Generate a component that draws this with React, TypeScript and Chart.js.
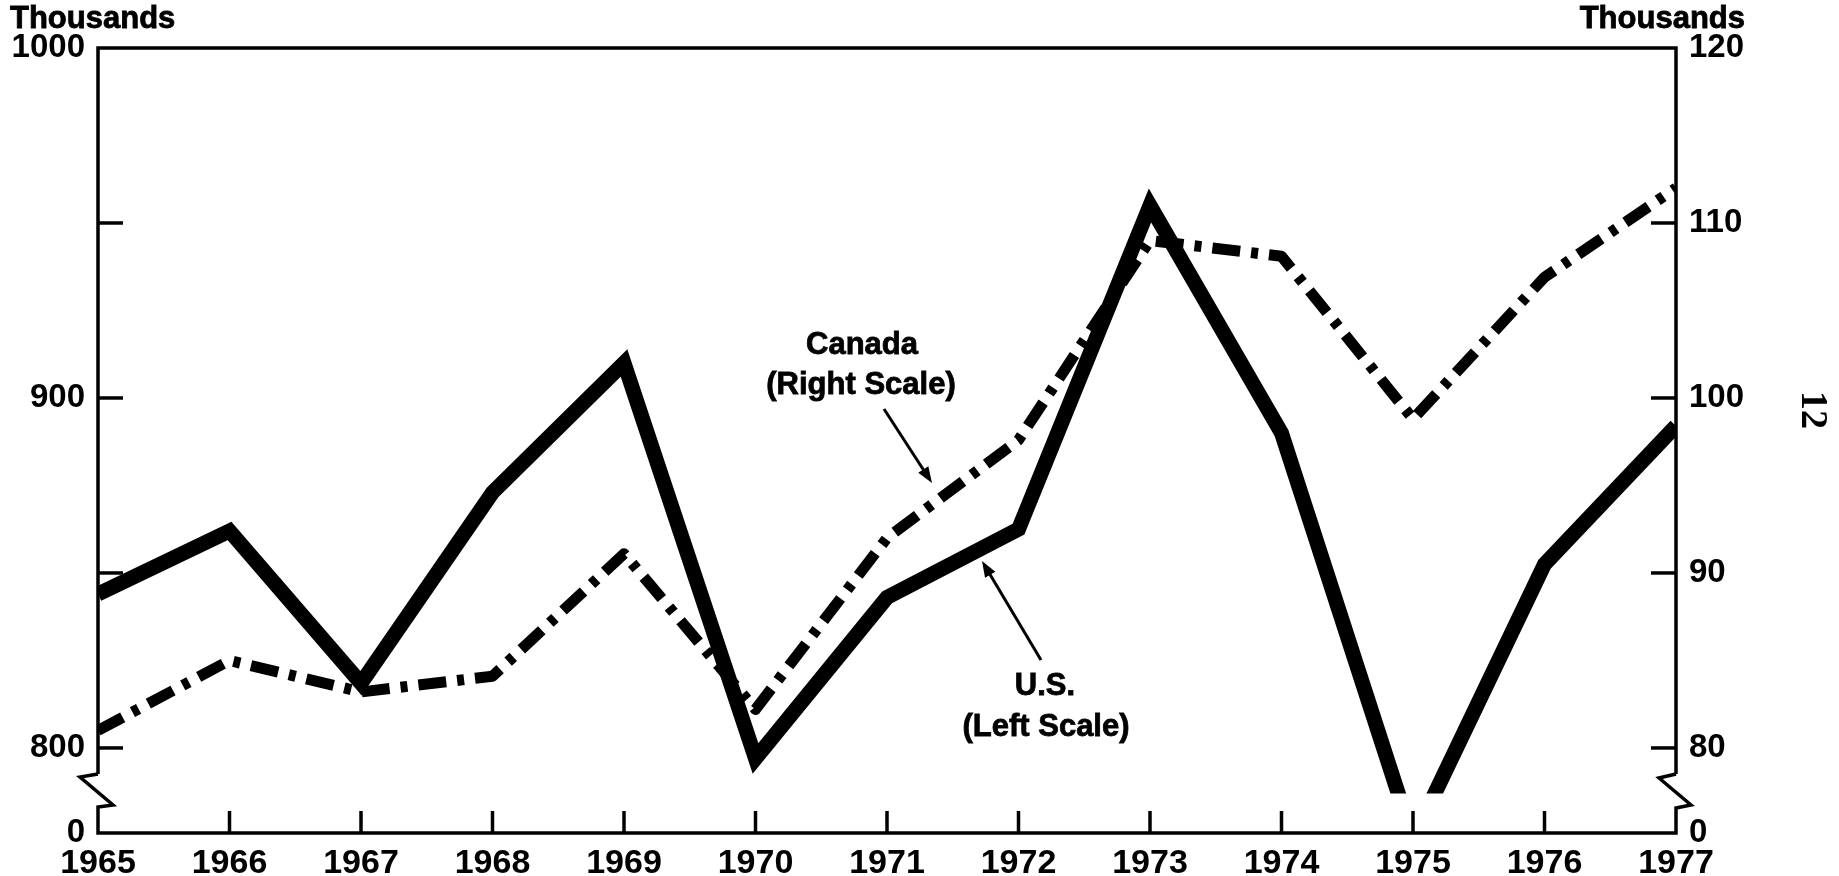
import React, { useEffect, useRef } from 'react';
import { Chart, registerables } from 'chart.js';

Chart.register(...registerables);

// ---- data ----
const years = ['1965', '1966', '1967', '1968', '1969', '1970', '1971', '1972', '1973', '1974', '1975', '1976', '1977'];
const usValues = [844, 862, 818.5, 873, 910, 797, 843, 862.5, 955, 890, 774, 852.5, 892];
const canadaValues = [81.0, 85.0, 83.2, 84.1, 91.1, 82.2, 92.0, 97.6, 109.0, 108.1, 98.8, 106.9, 112.0];

const leftTickValues = [800, 850, 900, 950, 1000];
const leftTickLabels = ['800', '', '900', '', '1000'];
const rightTickValues = [80, 90, 100, 110, 120];
const rightTickLabels = ['80', '90', '100', '110', '120'];

// axis floors (the broken part of each axis, labelled "0")
const LEFT_MIN = 775.7;
const RIGHT_MIN = 75.14;
const US_CUTOFF = 787; // U.S. line is cut off at the axis break

const FONT = '"Liberation Sans", Arial, sans-serif';

function labelFrom(values: number[], labels: string[], min: number) {
  return (v: number | string) => {
    const n = Number(v);
    if (Math.abs(n - min) < 0.01) return '0';
    const i = values.findIndex((x) => Math.abs(x - n) < 0.01);
    return i >= 0 ? labels[i] : '';
  };
}

function arrow(ctx: CanvasRenderingContext2D, x1: number, y1: number, x2: number, y2: number) {
  const ang = Math.atan2(y2 - y1, x2 - x1);
  const hl = 16;
  const hw = 6;
  ctx.beginPath();
  ctx.moveTo(x1, y1);
  ctx.lineTo(x2 - Math.cos(ang) * hl * 0.8, y2 - Math.sin(ang) * hl * 0.8);
  ctx.lineWidth = 3;
  ctx.stroke();
  ctx.beginPath();
  ctx.moveTo(x2, y2);
  ctx.lineTo(x2 - Math.cos(ang) * hl - Math.sin(ang) * hw, y2 - Math.sin(ang) * hl + Math.cos(ang) * hw);
  ctx.lineTo(x2 - Math.cos(ang) * hl + Math.sin(ang) * hw, y2 - Math.sin(ang) * hl - Math.cos(ang) * hw);
  ctx.closePath();
  ctx.fill();
}

function heavyText(ctx: CanvasRenderingContext2D, text: string, x: number, y: number) {
  ctx.lineWidth = 0.8;
  ctx.strokeText(text, x, y);
  ctx.fillText(text, x, y);
}

const decorPlugin = {
  id: 'decor',
  beforeDatasetDraw(chart: any, args: any) {
    if (args.index !== 0) return;
    const { ctx, chartArea } = chart;
    const yCut = chart.scales.y.getPixelForValue(US_CUTOFF);
    ctx.save();
    ctx.beginPath();
    ctx.rect(chartArea.left - 30, 0, chartArea.right - chartArea.left + 60, yCut);
    ctx.clip();
  },
  afterDatasetDraw(chart: any, args: any) {
    if (args.index !== 0) return;
    chart.ctx.restore();
  },
  afterDraw(chart: any) {
    const { ctx, chartArea, scales } = chart;
    const { left, right, top, bottom } = chartArea;
    const yL = scales.y;
    const yR = scales.y2;
    const xs = scales.x;
    ctx.save();
    ctx.strokeStyle = '#000';
    ctx.fillStyle = '#000';
    ctx.lineCap = 'butt';
    ctx.lineJoin = 'miter';

    // frame with axis breaks
    const brk = bottom - 59;
    ctx.lineWidth = 3.5;
    ctx.beginPath();
    ctx.moveTo(left, brk);
    ctx.lineTo(left, top);
    ctx.lineTo(right, top);
    ctx.lineTo(right, brk);
    ctx.stroke();

    ctx.beginPath();
    ctx.moveTo(left, brk);
    ctx.lineTo(left - 18, brk + 3);
    ctx.lineTo(left + 15, brk + 31);
    ctx.lineTo(left, brk + 33);
    ctx.lineTo(left, bottom);
    ctx.lineTo(right, bottom);
    ctx.lineTo(right, brk + 34);
    ctx.lineTo(right + 15, brk + 31);
    ctx.lineTo(right - 17, brk + 4);
    ctx.lineTo(right, brk);
    ctx.stroke();

    // inward tick marks
    ctx.lineWidth = 3.5;
    leftTickValues.forEach((v) => {
      if (v === 1000) return;
      const y = yL.getPixelForValue(v);
      ctx.beginPath();
      ctx.moveTo(left, y);
      ctx.lineTo(left + 25, y);
      ctx.stroke();
    });
    rightTickValues.forEach((v) => {
      if (v === 120) return;
      const y = yR.getPixelForValue(v);
      ctx.beginPath();
      ctx.moveTo(right - 25, y);
      ctx.lineTo(right, y);
      ctx.stroke();
    });
    for (let i = 1; i < years.length - 1; i++) {
      const x = xs.getPixelForValue(i);
      ctx.beginPath();
      ctx.moveTo(x, bottom);
      ctx.lineTo(x, bottom - 22);
      ctx.stroke();
    }

    // unit labels
    ctx.font = `bold 31px ${FONT}`;
    ctx.textBaseline = 'middle';
    ctx.textAlign = 'left';
    heavyText(ctx, 'Thousands', 10, 19);
    ctx.textAlign = 'right';
    heavyText(ctx, 'Thousands', 1745, 19);

    // series annotations
    ctx.font = `bold 31px ${FONT}`;
    ctx.textAlign = 'center';
    heavyText(ctx, 'Canada', 862, 345);
    heavyText(ctx, '(Right Scale)', 861, 385);
    heavyText(ctx, 'U.S.', 1045, 686);
    heavyText(ctx, '(Left Scale)', 1046, 727);
    arrow(ctx, 884, 409, 932, 483);
    arrow(ctx, 1041, 660, 982, 561);

    // page number
    ctx.translate(1812, 410);
    ctx.rotate(Math.PI / 2);
    ctx.font = `bold 38px "Liberation Serif", serif`;
    ctx.textAlign = 'center';
    ctx.fillText('12', 0, 0);
    ctx.restore();
  },
};

export default function App() {
  const ref = useRef<HTMLCanvasElement | null>(null);

  useEffect(() => {
    if (!ref.current) return;
    const chart = new Chart(ref.current, {
      type: 'line',
      data: {
        labels: years,
        datasets: [
          {
            label: 'U.S. (Left Scale)',
            data: usValues,
            yAxisID: 'y',
            borderColor: '#000',
            borderWidth: 15,
            borderJoinStyle: 'miter',
            borderCapStyle: 'butt',
            pointRadius: 0,
            tension: 0,
            fill: false,
            clip: 0,
          },
          {
            label: 'Canada (Right Scale)',
            data: canadaValues,
            yAxisID: 'y2',
            borderColor: '#000',
            borderWidth: 11,
            borderDash: [28, 11, 7, 11],
            borderJoinStyle: 'round',
            borderCapStyle: 'butt',
            pointRadius: 0,
            tension: 0,
            fill: false,
            clip: 0,
          },
        ],
      },
      options: {
        animation: false,
        responsive: false,
        maintainAspectRatio: false,
        devicePixelRatio: 1,
        layout: { padding: { left: 0, right: 0, top: 48, bottom: 0 } },
        plugins: { legend: { display: false }, tooltip: { enabled: false } },
        scales: {
          x: {
            type: 'category',
            offset: false,
            grid: { display: false, drawTicks: false },
            border: { display: false },
            ticks: {
              color: '#000',
              font: { family: FONT, size: 34, weight: 'bold' },
              padding: 10,
              autoSkip: false,
              maxRotation: 0,
            },
            afterFit: (s: any) => {
              s.height = 43;
            },
          },
          y: {
            type: 'linear',
            position: 'left',
            min: LEFT_MIN,
            max: 1000,
            grid: { display: false, drawTicks: false },
            border: { display: false },
            afterBuildTicks: (s: any) => {
              s.ticks = [LEFT_MIN, ...leftTickValues].map((v) => ({ value: v }));
            },
            ticks: {
              color: '#000',
              font: { family: FONT, size: 33, weight: 'bold' },
              padding: 13,
              autoSkip: false,
              callback: labelFrom(leftTickValues, leftTickLabels, LEFT_MIN),
            },
            afterFit: (s: any) => {
              s.width = 98;
            },
          },
          y2: {
            type: 'linear',
            position: 'right',
            min: RIGHT_MIN,
            max: 120,
            grid: { display: false, drawTicks: false },
            border: { display: false },
            afterBuildTicks: (s: any) => {
              s.ticks = [RIGHT_MIN, ...rightTickValues].map((v) => ({ value: v }));
            },
            ticks: {
              color: '#000',
              font: { family: FONT, size: 33, weight: 'bold' },
              padding: 13,
              autoSkip: false,
              callback: labelFrom(rightTickValues, rightTickLabels, RIGHT_MIN),
            },
            afterFit: (s: any) => {
              s.width = 1839 - 1676;
            },
          },
        },
      },
      plugins: [decorPlugin],
    } as any);
    return () => chart.destroy();
  }, []);

  return (
    <div style={{ position: 'absolute', left: 0, top: 0, width: 1839, height: 876, background: '#fff' }}>
      <canvas ref={ref} width={1839} height={876} style={{ display: 'block', width: 1839, height: 876 }} />
    </div>
  );
}
